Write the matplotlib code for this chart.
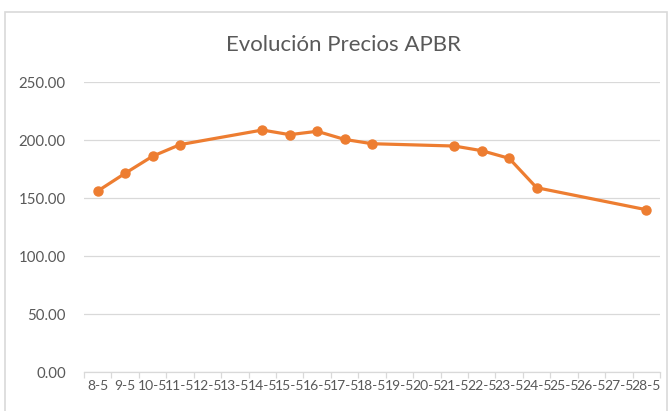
import matplotlib.pyplot as plt
from matplotlib.patches import Rectangle

plt.rcParams['font.family'] = ['Lato', 'DejaVu Sans']

# category labels on the date axis (8 to 28 May)
labels = ['8-5', '9-5', '10-5', '11-5', '12-5', '13-5', '14-5', '15-5', '16-5', '17-5', '18-5',
          '19-5', '20-5', '21-5', '22-5', '23-5', '24-5', '25-5', '26-5', '27-5', '28-5']
days = [8, 9, 10, 11, 14, 15, 16, 17, 18, 21, 22, 23, 24, 28]
prices = [156.0, 171.3, 186.0, 196.0, 208.6, 204.6, 207.5, 200.5, 196.8, 194.8, 190.8, 184.2, 158.9, 139.9]

first_day = 8
x = [d - first_day for d in days]

fig = plt.figure(figsize=(6.71, 4.11), dpi=100)
ax = fig.add_axes([84 / 671, 1 - 372 / 411, 576 / 671, 290 / 411])

# chart border
fig.patches.append(Rectangle((5 / 671, -0.1), 662 / 671, 1.1 - 12 / 411, transform=fig.transFigure,
                             fill=False, edgecolor='#D9D9D9', linewidth=1.2))

ax.plot(x, prices, color='#ED7D31', linewidth=2.3, marker='o', markersize=6.5, zorder=3)

ax.set_ylim(0, 250)
ax.set_yticks([0, 50, 100, 150, 200, 250])
ax.set_yticklabels([f'{v:.2f}' for v in [0, 50, 100, 150, 200, 250]])
ax.set_xlim(-0.5, len(labels) - 0.5)
ax.set_xticks(range(len(labels)))
ax.set_xticklabels(labels)
ax.set_xticks([i - 0.5 for i in range(len(labels) + 1)], minor=True)

ax.grid(axis='y', color='#D9D9D9', linewidth=0.9)
ax.set_axisbelow(True)
for s in ['left', 'right', 'top']:
    ax.spines[s].set_visible(False)
ax.spines['bottom'].set_color('#D9D9D9')
ax.spines['bottom'].set_linewidth(0.9)

ax.tick_params(axis='y', length=0, pad=13, labelsize=10.8, labelcolor='#595959')
ax.tick_params(axis='x', which='major', length=0, pad=6, labelsize=10, labelcolor='#595959')
ax.tick_params(axis='x', which='minor', length=4, color='#D9D9D9', width=0.9)

fig.text(344 / 671, 1 - 45 / 411, 'Evolución Precios APBR', ha='center', va='center',
         fontsize=16, color='#595959')

fig.savefig('out.png', dpi=100, facecolor='white')
